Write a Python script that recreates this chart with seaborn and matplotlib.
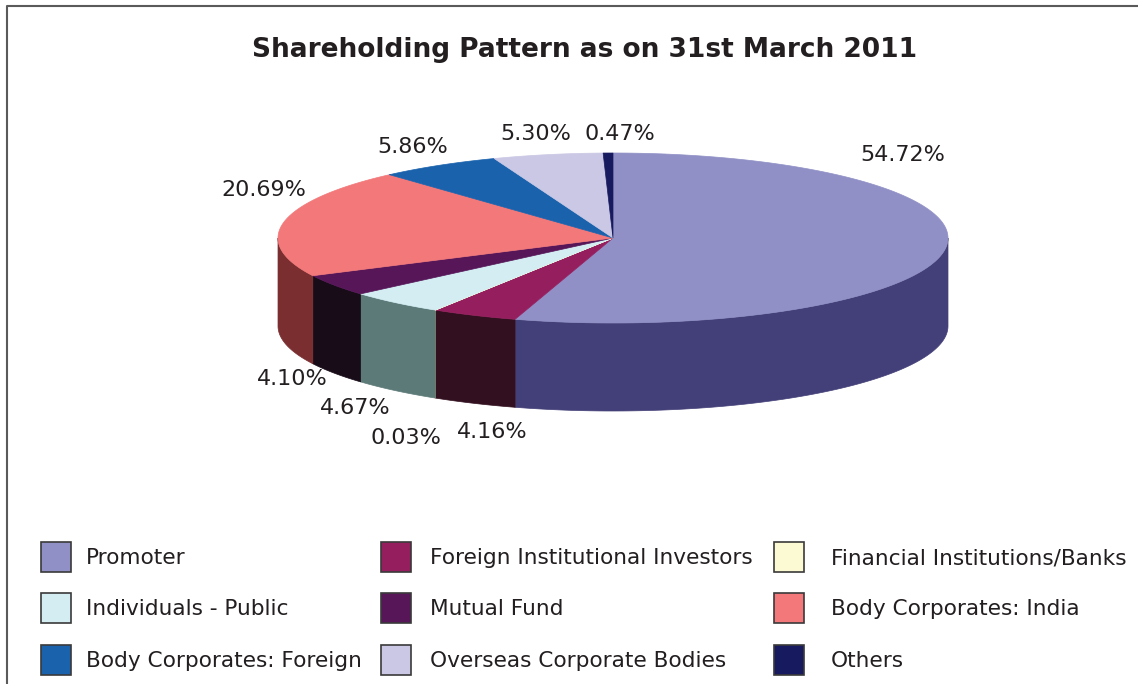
import numpy as np
import matplotlib
matplotlib.use("Agg")
import matplotlib.pyplot as plt
from matplotlib.patches import Polygon, Rectangle
from matplotlib.lines import Line2D
import seaborn as sns

sns.set_style("white")
plt.rcParams['font.family'] = ['DejaVu Sans']

# ===============================
# Data
# ===============================

categories = [
    "Promoter",
    "Foreign Institutional Investors",
    "Financial Institutions/Banks",
    "Individuals - Public",
    "Mutual Fund",
    "Body Corporates: India",
    "Body Corporates: Foreign",
    "Overseas Corporate Bodies",
    "Others",
]
shares = [54.72, 4.16, 0.03, 4.67, 4.10, 20.69, 5.86, 5.30, 0.47]

top_colors = ["#9090C6", "#951F5E", "#FCFAD2", "#D3EDF3", "#561658",
              "#F2787A", "#1B62AD", "#CAC8E4", "#171A5E"]
side_colors = ["#433F78", "#33101F", "#807E60", "#5C7A78", "#180C18",
               "#7A2E30", "#0E3260", "#66647A", "#0B0D30"]

# label positions (pixel layout of the original)
label_pos = [(903, 155), (492, 432), (406, 438), (355, 408), (292, 379),
             (264, 190), (413, 147), (536, 134), (620, 134)]

# legend order (row by row)
legend_order = [0, 1, 2, 3, 4, 5, 6, 7, 8]

# ===============================
# Figure
# ===============================

W, H = 1138, 684
fig = plt.figure(figsize=(W / 100, H / 100), dpi=100)
ax = fig.add_axes([0, 0, 1, 1])
ax.set_xlim(0, W)
ax.set_ylim(H, 0)
ax.axis("off")

# pie geometry
cx, cy = 613, 238
rx, ry = 335, 85
depth = 88

vals = np.array(shares) / np.sum(shares)
ends = 90 - 360 * np.cumsum(vals)
starts = np.concatenate([[90], ends[:-1]])

def arc(t0, t1, n=200):
    t = np.radians(np.linspace(t0, t1, n))
    return cx + rx * np.cos(t), cy - ry * np.sin(t)

# side walls (front half only: angles between -180 and 0)
for a0, a1, c in zip(starts, ends, side_colors):
    lo, hi = max(a1, -180), min(a0, 0)
    if hi <= lo:
        continue
    x, y = arc(hi, lo)
    pts = np.column_stack([np.concatenate([x, x[::-1]]),
                           np.concatenate([y, y[::-1] + depth])])
    ax.add_patch(Polygon(pts, closed=True, facecolor=c, edgecolor=c, lw=0.5))

# top surface
for a0, a1, c in zip(starts, ends, top_colors):
    x, y = arc(a0, a1)
    pts = np.column_stack([np.concatenate([[cx], x]), np.concatenate([[cy], y])])
    ax.add_patch(Polygon(pts, closed=True, facecolor=c, edgecolor=c, lw=0.5))

# value labels
for v, (lx, ly) in zip(shares, label_pos):
    ax.text(lx, ly, f"{v:.2f}%", ha="center", va="center",
            fontsize=16, color="#231F20")

# title
ax.text(585, 50, "Shareholding Pattern as on 31st March 2011", ha="center",
        va="center", fontsize=19, fontweight="bold", color="#231F20")

# ===============================
# Legend
# ===============================

col_box_x = [41, 381, 774]
col_text_x = [86, 430, 831]
row_y = [557, 608, 660]
for k, idx in enumerate(legend_order):
    r, col = divmod(k, 3)
    ax.add_patch(Rectangle((col_box_x[col], row_y[r] - 15), 30, 30,
                           facecolor=top_colors[idx], edgecolor="#3A3A3A", lw=1.2))
    ax.text(col_text_x[col], row_y[r] + 1, categories[idx], ha="left",
            va="center", fontsize=15.6, color="#231F20")

# frame around the chart
ax.add_line(Line2D([7, 7, W + 5], [H + 5, 6, 6], color="#5A5A5A", lw=1.5))

fig.savefig("out.png", dpi=100)
